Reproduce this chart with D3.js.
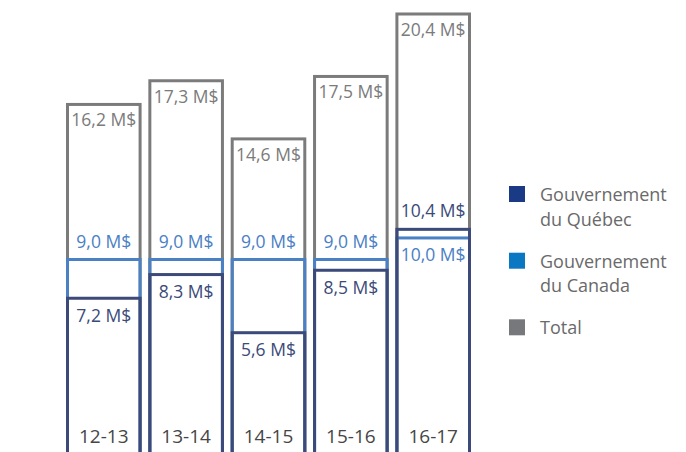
<!DOCTYPE html>
<html>
<head>
<meta charset="utf-8">
<script src="https://cdn.jsdelivr.net/npm/d3@7"></script>
<style>
  html, body { margin: 0; padding: 0; background: #fff; }
  svg { display: block; font-family: "Open Sans", "Noto Sans", sans-serif; }
</style>
</head>
<body>
<svg id="chart" width="686" height="452"></svg>
<script>
// Financement par exercice (M$)
const years = ["12-13", "13-14", "14-15", "15-16", "16-17"];
const quebec = [7.2, 8.3, 5.6, 8.5, 10.4];
const canada = [9.0, 9.0, 9.0, 9.0, 10.0];
const total = [16.2, 17.3, 14.6, 17.5, 20.4];
const legendLabels = [["Gouvernement", "du Québec"], ["Gouvernement", "du Canada"], ["Total"]];

const fmt = v => d3.format(".1f")(v).replace(".", ",") + " M$";

const colors = {
  total: "#7b7b7b",
  canada: "#4a80c4",
  quebec: "#3b4a78"
};
const legendColors = ["#1b3a86", "#0a77c2", "#77787b"];

const svg = d3.select("#chart");

const x = d3.scaleBand()
  .domain(years)
  .range([67.5, 469.5])
  .paddingInner(0.1185)
  .paddingOuter(0);

const y = d3.scaleLinear()
  .domain([0, 20.4])
  .range([453.3, 14]);

const bottom = 470; // rectangles run past the lower edge
const sw = 3;

function drawSeries(values, color, cls) {
  svg.append("g").attr("class", cls)
    .selectAll("rect")
    .data(values)
    .join("rect")
    .attr("x", (d, i) => x(years[i]))
    .attr("y", d => y(d))
    .attr("width", x.bandwidth())
    .attr("height", d => bottom - y(d))
    .attr("fill", "none")
    .attr("stroke", color)
    .attr("stroke-width", sw);
}

drawSeries(total, colors.total, "total");
drawSeries(canada, colors.canada, "canada");
drawSeries(quebec, colors.quebec, "quebec");

const cx = i => x(years[i]) + x.bandwidth() / 2;
const labels = svg.append("g").attr("font-size", 17.5).attr("text-anchor", "middle");

// Totals sit just under the top edge of each rectangle
labels.selectAll("text.t")
  .data(total)
  .join("text")
  .attr("class", "t")
  .attr("x", (d, i) => cx(i))
  .attr("y", d => y(d) + 22)
  .attr("fill", colors.total)
  .text(fmt);

// The larger of the two contributions is labelled above its line, the other below
years.forEach((yr, i) => {
  const q = quebec[i], c = canada[i];
  const qAbove = q > c;
  labels.append("text")
    .attr("x", cx(i))
    .attr("y", qAbove ? y(q) - 12 : y(q) + 23.5)
    .attr("fill", colors.quebec)
    .text(fmt(q));
  labels.append("text")
    .attr("x", cx(i))
    .attr("y", qAbove ? y(c) + 23.5 : y(c) - 11)
    .attr("fill", colors.canada)
    .text(fmt(c));
});

// Year labels at the foot of each bar
svg.append("g")
  .selectAll("text")
  .data(years)
  .join("text")
  .attr("x", (d, i) => cx(i))
  .attr("y", 442.7)
  .attr("text-anchor", "middle")
  .attr("font-size", 19)
  .attr("fill", "#464646")
  .text(d => d);

// Legend
const legendTop = [186, 252.7, 319.3];
const legend = svg.append("g");
legendLabels.forEach((lines, i) => {
  const g = legend.append("g");
  g.append("rect")
    .attr("x", 509)
    .attr("y", legendTop[i])
    .attr("width", 16)
    .attr("height", 16)
    .attr("fill", legendColors[i]);
  const t = g.append("text")
    .attr("x", 540)
    .attr("y", legendTop[i] + 15)
    .attr("font-size", 18)
    .attr("fill", "#6a6a6a");
  lines.forEach((ln, j) => {
    t.append("tspan")
      .attr("x", 540)
      .attr("dy", j === 0 ? 0 : 24.5)
      .text(ln);
  });
});
</script>
</body>
</html>
